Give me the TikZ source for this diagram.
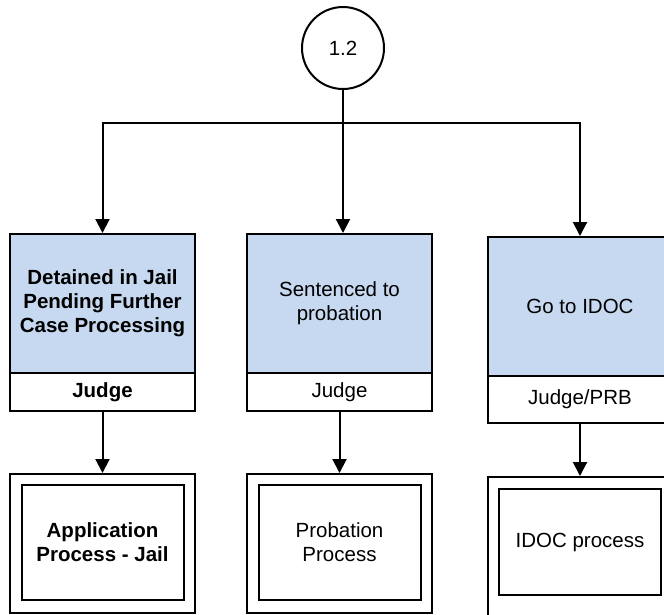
\documentclass[tikz,border=0pt]{standalone}
\usepackage{fontspec}
\setmainfont{Liberation Sans}
\usetikzlibrary{arrows.meta}
\definecolor{boxblue}{RGB}{198,217,240}
\begin{document}
\begin{tikzpicture}[x=1pt,y=-1pt,
  every node/.style={font=\fontsize{20.5}{24}\selectfont},
  ln/.style={line width=2pt,black},
  arr/.style={ln,-{Triangle[width=14pt,length=14pt]}},
  topbox/.style={draw,line width=2pt,fill=boxblue,minimum width=185pt,minimum height=139pt,align=center,inner sep=0pt},
  lowbox/.style={draw,line width=2pt,fill=white,minimum width=185pt,align=center,inner sep=0pt},
  outerbox/.style={draw,line width=2pt,fill=white,minimum width=185pt,minimum height=139pt,inner sep=0pt},
  innerbox/.style={draw,line width=2pt,minimum width=162pt,align=center,inner sep=0pt}]
\useasboundingbox (0,0) rectangle (664,614);
\clip (0,0) rectangle (664,614);
% circle
\node[draw,circle,line width=2pt,minimum size=82pt,inner sep=0pt] (c) at (343,48) {1.2};
\coordinate (jm) at (343,123);
% top boxes
\node[topbox] (t1) at (102.5,303.5) {\textbf{Detained in Jail}\\\textbf{Pending Further}\\\textbf{Case Processing}};
\node[lowbox,minimum height=38pt] (l1) at (102.5,392) {\textbf{Judge}};
\node[topbox] (t2) at (339.5,303.5) {Sentenced to\\probation};
\node[lowbox,minimum height=38pt] (l2) at (339.5,392) {Judge};
\node[topbox] (t3) at (580,306.5) {Go to IDOC};
\node[lowbox,minimum height=47pt] (l3) at (580,399.5) {Judge/PRB};
% bottom double boxes
\node[outerbox] (o1) at (102.5,543.5) {};
\node[innerbox,minimum height=115pt] (i1) at (102.5,542.5) {\textbf{Application}\\\textbf{Process - Jail}};
\node[outerbox] (o2) at (339.5,543.5) {};
\node[innerbox,minimum height=115pt] (i2) at (339.5,542.5) {Probation\\Process};
\node[outerbox] (o3) at (580,546.5) {};
\node[innerbox,minimum height=106pt] (i3) at (580,542) {IDOC process};
% connectors
\draw[ln] (c.south) -- (jm);
\draw[arr] (jm) -| (t1.north);
\draw[arr] (jm) -| (t3.north);
\draw[arr] (jm) -- (jm |- t2.north);
\draw[arr] (l1.south) -- (o1.north);
\draw[arr] (l2.south) -- (o2.north);
\draw[arr] (l3.south) -- (o3.north);
\end{tikzpicture}
\end{document}
